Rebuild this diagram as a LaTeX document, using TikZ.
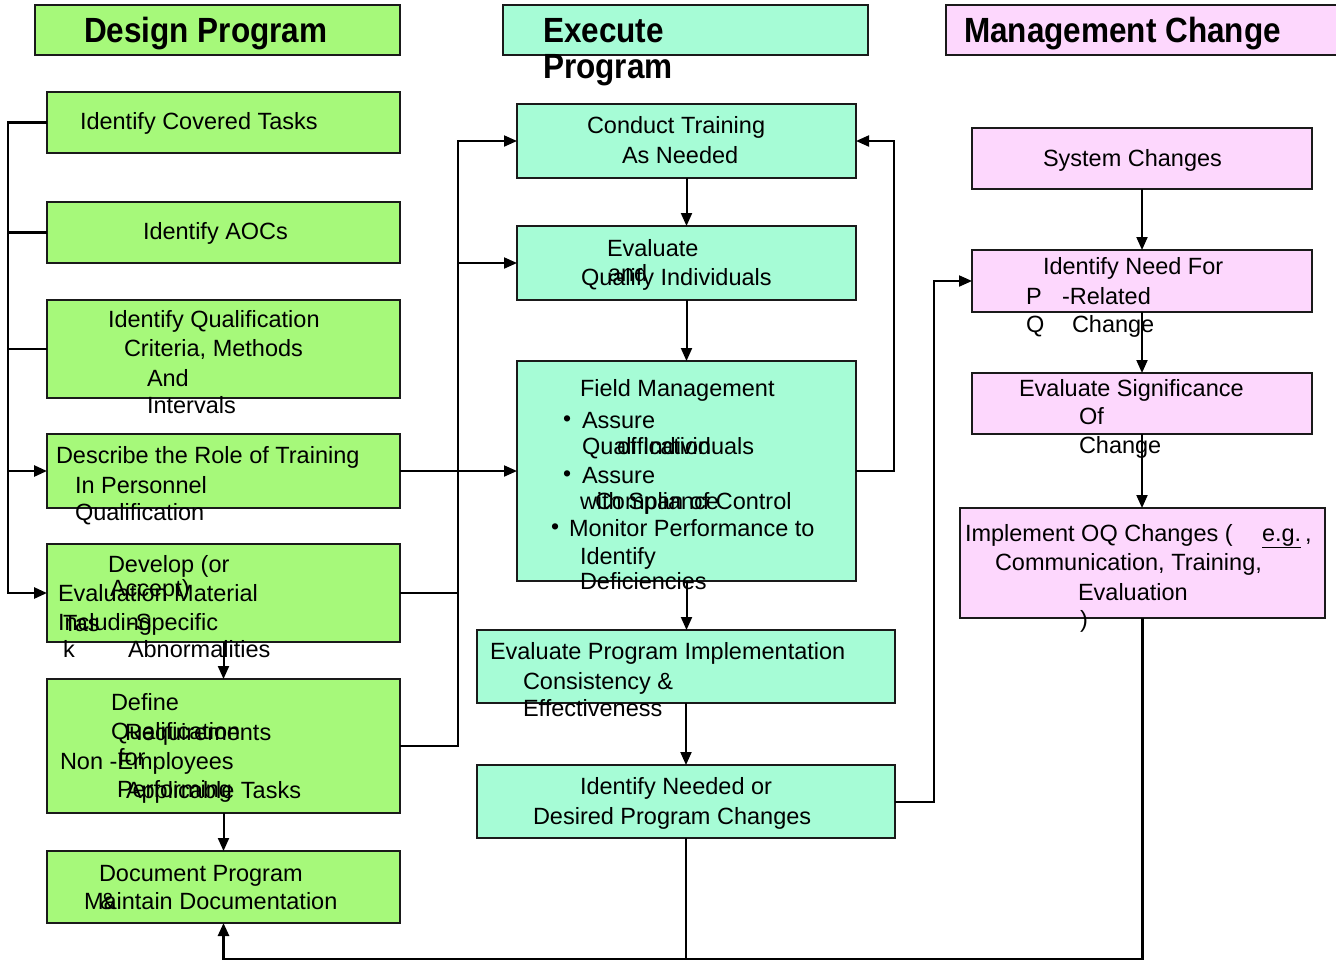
\documentclass[tikz,border=0pt]{standalone}
\usepackage{fontspec}
\usepackage{graphicx}
\setmainfont{Liberation Sans}
\usetikzlibrary{arrows.meta,calc}
\definecolor{gfill}{HTML}{A6F97A}
\definecolor{mfill}{HTML}{A6FCD6}
\definecolor{pfill}{HTML}{FDD7FD}
\definecolor{bord}{HTML}{1A1A1A}
\begin{document}
\begin{tikzpicture}[x=1pt,y=-1pt,
  box/.style={draw=bord,line width=1.5pt,inner sep=0pt,outer sep=0pt},
  gbox/.style={box,fill=gfill},
  mbox/.style={box,fill=mfill},
  pbox/.style={box,fill=pfill},
  txt/.style={anchor=base west,inner sep=0pt,outer sep=0pt,font=\fontsize{23.5}{30}\selectfont},
  htxt/.style={anchor=base west,inner sep=0pt,outer sep=0pt,font=\fontsize{35}{40}\selectfont\bfseries},
  btxt/.style={anchor=base west,inner sep=0pt,outer sep=0pt,font=\fontsize{23}{26}\selectfont},
  conn/.style={line width=2pt,draw=black},
  bus/.style={line width=2.6pt,draw=black},
  tip/.style={-{Triangle[length=13pt,width=11pt]}},
]
\useasboundingbox (0,0) rectangle (1336,962);
% headers
\node[gbox,minimum width=365pt,minimum height=50pt] (h1) at (217.5,30) {};
\node[mbox,minimum width=365pt,minimum height=50pt] (h2) at (685.5,30) {};
\node[pbox,minimum width=394pt,minimum height=50pt] (h3) at (1143,30) {};
\node[htxt] (h1t) at (84,42) {\scalebox{0.9}[1]{Design Program}};
\node[htxt] (h2t) at (543,42) {\scalebox{0.9}[1]{Execute}};
\node[htxt] (h2u) at (543,78) {\scalebox{0.9}[1]{Program}};
\node[htxt] (h3t) at (964,42) {\scalebox{0.9}[1]{Management Change}};
% green boxes
\node[gbox,minimum width=353pt,minimum height=61pt] (g1) at (223.5,122.5) {};
\node[gbox,minimum width=353pt,minimum height=61pt] (g2) at (223.5,232.5) {};
\node[gbox,minimum width=353pt,minimum height=98pt] (g3) at (223.5,349) {};
\node[gbox,minimum width=353pt,minimum height=74pt] (g4) at (223.5,471) {};
\node[gbox,minimum width=353pt,minimum height=98pt] (g5) at (223.5,593) {};
\node[gbox,minimum width=353pt,minimum height=134pt] (g6) at (223.5,746) {};
\node[gbox,minimum width=353pt,minimum height=72pt] (g7) at (223.5,887) {};
% mint boxes
\node[mbox,minimum width=339pt,minimum height=74pt] (m1) at (686.5,141) {};
\node[mbox,minimum width=339pt,minimum height=74pt] (m2) at (686.5,263) {};
\node[mbox,minimum width=339pt,minimum height=220pt] (m3) at (686.5,471) {};
\node[mbox,minimum width=418pt,minimum height=73pt] (m4) at (686,666.5) {};
\node[mbox,minimum width=418pt,minimum height=73pt] (m5) at (686,801.5) {};
% pink boxes
\node[pbox,minimum width=340pt,minimum height=61pt] (p1) at (1142,158.5) {};
\node[pbox,minimum width=340pt,minimum height=62pt] (p2) at (1142,281) {};
\node[pbox,minimum width=340pt,minimum height=61pt] (p3) at (1142,403.5) {};
\node[pbox,minimum width=365pt,minimum height=110pt] (p4) at (1142.5,563) {};
% texts: left column
\node[txt] (t1) at (80,129) {Identify Covered Tasks};
\node[txt] (t2) at (143,239) {Identify AOCs};
\node[txt] (t3a) at (108,327) {Identify Qualification};
\node[txt] (t3b) at (124,356) {Criteria, Methods};
\node[txt] (t3c) at (147,386) {And};
\node[txt] (t3d) at (147,413) {Intervals};
\node[txt] (t4a) at (56,463) {Describe the Role of Training};
\node[txt] (t4b) at (75,493) {In Personnel};
\node[txt] (t4c) at (75,520) {Qualification};
\node[txt] (t5a) at (108,572) {Develop (or};
\node[txt] (t5b) at (110,596) {Accept)};
\node[txt] (t5c) at (58,601) {Evaluation Material};
\node[txt] (t5d) at (58,630) {Including};
\node[txt] (t5e) at (63,631) {Tas};
\node[txt] (t5f) at (128,630) {-Specific};
\node[txt] (t5g) at (63,657) {k};
\node[txt] (t5h) at (128,657) {Abnormalities};
\node[txt] (t6a) at (111,710) {Define};
\node[txt] (t6b) at (111,739) {Qualification};
\node[txt] (t6c) at (125,740) {Requirements};
\node[txt] (t6d) at (60,769) {Non -Employees};
\node[txt] (t6e) at (118,765) {for};
\node[txt] (t6f) at (117,797) {Performing};
\node[txt] (t6g) at (126,798) {Applicable Tasks};
\node[txt] (t7a) at (99,881) {Document Program};
\node[txt] (t7b) at (84,909) {Maintain Documentation};
\node[txt] (t7c) at (100,909) {\&};
% texts: middle column
\node[txt] (n1a) at (587,133) {Conduct Training};
\node[txt] (n1b) at (622,163) {As Needed};
\node[txt] (n2a) at (607,256) {Evaluate};
\node[txt] (n2b) at (608,281) {and};
\node[txt] (n2c) at (581,285) {Qualify Individuals};
\node[txt] (n3a) at (580,396) {Field Management};
\node[btxt] (n3b) at (563,426) {•};
\node[txt] (n3c) at (582,428) {Assure};
\node[txt] (n3d) at (582,454) {Qualification};
\node[txt] (n3e) at (617,454) {of Individuals};
\node[btxt] (n3f) at (563,481) {•};
\node[txt] (n3g) at (582,483) {Assure};
\node[txt] (n3h) at (595,509) {Compliance};
\node[txt] (n3i) at (580,509) {with Span of Control};
\node[btxt] (n3j) at (551,534) {•};
\node[txt] (n3k) at (569,536) {Monitor Performance to};
\node[txt] (n3l) at (580,564) {Identify};
\node[txt] (n3m) at (580,589) {Deficiencies};
\node[txt] (n4a) at (490,659) {Evaluate Program Implementation};
\node[txt] (n4b) at (523,689) {Consistency \&};
\node[txt] (n4c) at (523,716) {Effectiveness};
\node[txt] (n5a) at (580,794) {Identify Needed or};
\node[txt] (n5b) at (533,824) {Desired Program Changes};
% texts: right column
\node[txt] (r1) at (1043,166) {System Changes};
\node[txt] (r2a) at (1043,274) {Identify Need For};
\node[txt] (r2b) at (1026,304) {P};
\node[txt] (r2c) at (1062,304) {-Related};
\node[txt] (r2d) at (1026,332) {Q};
\node[txt] (r2e) at (1072,332) {Change};
\node[txt] (r3a) at (1019,396) {Evaluate Significance};
\node[txt] (r3b) at (1079,424) {Of};
\node[txt] (r3c) at (1079,453) {Change};
\node[txt] (r4a) at (965,541) {Implement OQ Changes (};
\node[txt] (r4b) at (1262,541) {\underline{e.g.}\,,};
\node[txt] (r4c) at (995,570) {Communication, Training,};
\node[txt] (r4d) at (1078,600) {Evaluation};
\node[txt] (r4e) at (1080,627) {)};
% connector coordinates
\coordinate (L) at (8,0);
\coordinate (M) at (458,0);
\coordinate (R) at (894,0);
\coordinate (S) at (934,0);
\coordinate (B) at (0,959);
% left bus
\draw[bus,tip] (g1.west) -- (g1.west -| L) |- (g5.west);
\draw[bus] (g2.west) -- (g2.west -| L);
\draw[bus] (g3.west) -- (g3.west -| L);
\draw[bus,tip] (g4.west -| L) -- (g4.west);
% middle bus
\draw[conn,tip] (g4.east) -- (m3.west);
\draw[conn] (g5.east) -- (g5.east -| M);
\draw[conn,tip] (g6.east) -- (g6.east -| M) |- (m1.west);
\draw[conn,tip] (m2.west -| M) -- (m2.west);
% verticals left
\draw[conn,tip] (g5.south) -- (g6.north);
\draw[conn,tip] (g6.south) -- (g7.north);
% middle column
\draw[conn,tip] (m1.south) -- (m2.north);
\draw[conn,tip] (m2.south) -- (m3.north);
\draw[conn,tip] (m3.south) -- (m3.south |- m4.north);
\draw[conn,tip] (m4.south) -- (m5.north);
\draw[conn,tip] (m3.east) -- (m3.east -| R) |- (m1.east);
\draw[conn,tip] (m5.east) -- (m5.east -| S) |- (p2.west);
% right column
\draw[conn,tip] (p1.south) -- (p2.north);
\draw[conn,tip] (p2.south) -- (p3.north);
\draw[conn,tip] (p3.south) -- (p3.south |- p4.north);
% bottom loop
\draw[bus,tip] (p4.south) -- (p4.south |- B) -- (g7.south |- B) -- (g7.south);
\draw[conn] (m5.south) -- (m5.south |- B);
\end{tikzpicture}
\end{document}
